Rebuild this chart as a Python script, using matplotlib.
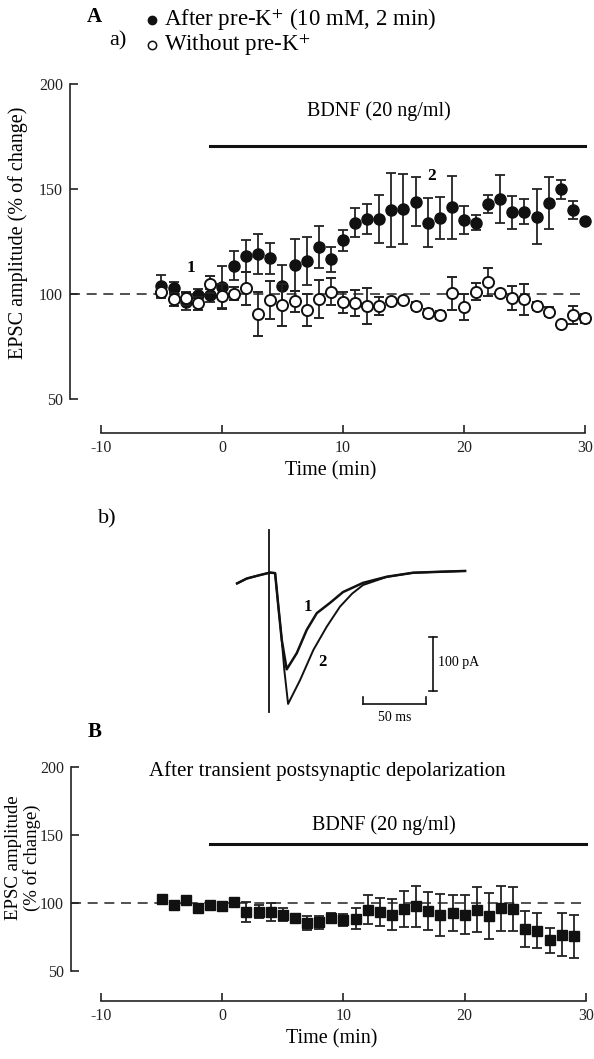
import matplotlib
matplotlib.use("Agg")
import matplotlib.pyplot as plt
from matplotlib.lines import Line2D

plt.rcParams['font.family'] = ['Liberation Serif', 'DejaVu Serif']
plt.rcParams['mathtext.fontset'] = 'stix'
plt.rcParams['axes.unicode_minus'] = False

# panel A a) -- time course, filled = after pre-K+, open = without pre-K+
time_a = list(range(-5, 31))
pre_k = [103.8, 102.9, 96.3, 99.5, 99.3, 103.5, 113.5, 118.0, 118.9, 117.0, 103.8, 114.0,
         115.7, 122.5, 116.5, 125.7, 134.0, 135.7, 135.7, 140.0, 140.6, 144.0, 134.0, 136.3,
         141.3, 135.2, 134.0, 142.9, 145.2, 138.9, 139.2, 136.8, 143.2, 149.8, 140.0, 134.8]
pre_k_err = [5.5, 3.0, 4.0, 3.0, 3.0, 10.0, 6.9, 7.5, 9.5, 7.5, 10.0, 12.4,
             11.4, 10.0, 5.8, 5.0, 7.0, 7.0, 11.5, 17.5, 16.7, 11.7, 11.7, 10.0,
             15.0, 6.5, 3.7, 4.5, 11.5, 7.9, 5.9, 13.0, 12.4, 4.4, 4.4, 0.0]
no_pre_k = [101.0, 97.5, 98.0, 95.6, 104.6, 99.0, 100.2, 102.7, 90.4, 97.0, 95.0, 96.5,
            92.4, 97.5, 101.1, 96.0, 95.6, 94.4, 94.3, 96.5, 97.1, 94.4, 91.1, 90.0,
            100.3, 93.7, 101.1, 105.6, 100.6, 97.9, 97.5, 94.4, 91.6, 85.7, 90.0, 88.4]
no_pre_k_err = [2.0, 3.0, 3.0, 3.0, 4.0, 6.0, 3.0, 8.0, 10.5, 9.0, 10.0, 5.0,
                7.8, 9.0, 6.5, 5.0, 6.3, 8.5, 4.5, 0.0, 0.0, 2.0, 2.0, 2.0,
                7.8, 6.3, 4.0, 6.6, 0.0, 5.7, 7.4, 2.0, 2.0, 0.0, 4.4, 2.0]

# panel A b) -- EPSC traces (ms, pA)
trace1_t = [0, 7.7, 18.3, 26.2, 30.2, 32.8, 35.5, 39.4, 47.4, 55.3, 63.3, 73.8, 84.1, 100, 118.8, 139.7, 161, 181]
trace1_i = [-21, -12, -5.5, -1, -2, -64, -126, -180, -150, -107, -76, -57, -37, -20, -8.7, -1.3, 0.5, 2]
trace2_t = [0, 7.7, 18.3, 26.2, 30.2, 32.8, 35.5, 37.5, 40.5, 50, 60.6, 71.2, 81.7, 91.3, 100, 118.8, 139.7, 161, 181]
trace2_i = [-21, -12, -5.5, -1, -2, -64, -126, -181, -244, -200, -144, -101, -64, -40, -24, -9, -1.3, 0.5, 2]
artifact_t = [25.4, 25.4]
artifact_i = [78, -259]

# panel B -- after transient postsynaptic depolarization
time_b = list(range(-5, 30))
depol = [103.0, 98.7, 101.9, 96.3, 98.7, 97.5, 100.7, 93.3, 93.6, 93.3, 91.4, 88.9,
         85.2, 85.7, 88.9, 87.2, 88.4, 95.0, 93.3, 91.3, 95.8, 97.5, 94.3, 91.3,
         92.5, 91.3, 95.0, 90.1, 96.2, 95.4, 80.8, 79.6, 72.4, 76.6, 75.4]
depol_err = [0, 0, 0, 0, 0, 0, 0, 7.0, 5.0, 6.8, 5.0, 0,
             5.2, 5.0, 3.5, 4.3, 7.8, 10.5, 10.5, 11.6, 13.3, 15.0, 14.0, 15.6,
             13.0, 14.5, 16.4, 17.0, 16.6, 16.4, 13.0, 13.0, 9.0, 16.0, 15.8]

bdnf_start, bdnf_end = -1, 30

W, H = 594, 1059
fig = plt.figure(figsize=(W / 100, H / 100), dpi=100)


def px_axes(left, top, right, bottom):
    return fig.add_axes([left / W, 1 - bottom / H, (right - left) / W, (bottom - top) / H])


def style_axes(ax):
    for s in ['top', 'right']:
        ax.spines[s].set_visible(False)
    ax.spines['left'].set_bounds(50, 200)
    ax.spines['bottom'].set_bounds(-10, 30)
    for s in ['left', 'bottom']:
        ax.spines[s].set_linewidth(1.2)
        ax.spines[s].set_color('#222222')
    ax.set_yticks([50, 100, 150, 200])
    ax.set_xticks([-10, 0, 10, 20, 30])
    ax.tick_params(direction='in', length=6, width=1.2, labelsize=11.5, colors='#222222', pad=5)


ink = '#111111'

# ---- panel A a)
axA = px_axes(70, 82, 591, 433)
axA.set_xlim(-12.56, 30.5)
axA.set_ylim(33.8, 201)
style_axes(axA)
axA.plot([-12.56, 30], [100, 100], color='#333333', lw=1.2, dashes=(6, 4), zorder=1)
axA.errorbar(time_a, pre_k, yerr=pre_k_err, fmt='o', ms=8, color=ink, mfc=ink, mec=ink,
             ecolor='#222222', elinewidth=1.3, capsize=3.5, capthick=1.3, zorder=3)
axA.errorbar(time_a, no_pre_k, yerr=no_pre_k_err, fmt='o', ms=8, color=ink, mfc='white', mec=ink,
             mew=1.4, ecolor='#222222', elinewidth=1.3, capsize=3.5, capthick=1.3, zorder=4)
axA.plot([bdnf_start, bdnf_end], [170.5, 170.5], color=ink, lw=2.2)
axA.text(13, 187, 'BDNF (20 ng/ml)', ha='center', va='center', fontsize=14.5)
axA.text(-2.6, 112.5, '1', ha='center', va='center', fontsize=12.5, fontweight='bold')
axA.text(17.3, 156, '2', ha='center', va='center', fontsize=12.5, fontweight='bold')
axA.set_xlabel('Time (min)', fontsize=14.5)
axA.set_ylabel('EPSC amplitude (% of change)', fontsize=14.5)
axA.yaxis.set_label_coords(-0.081, 0.57)

fig.text(94 / W, 1 - 17 / H, 'A', ha='center', va='center', fontsize=15, fontweight='bold')
fig.text(118 / W, 1 - 41 / H, 'a)', ha='center', va='center', fontsize=16)
fig.add_artist(Line2D([152 / W], [1 - 20 / H], marker='o', ms=6, color=ink, transform=fig.transFigure))
fig.add_artist(Line2D([152 / W], [1 - 45 / H], marker='o', ms=6, mfc='white', mec=ink, mew=1.1,
                      transform=fig.transFigure))
fig.text(164 / W, 1 - 20 / H, 'After pre-K$^{+}$ (10 mM, 2 min)', ha='left', va='center', fontsize=16.5)
fig.text(164 / W, 1 - 45 / H, 'Without pre-K$^{+}$', ha='left', va='center', fontsize=16.5)

# ---- panel A b) traces
fig.text(107 / W, 1 - 519 / H, 'b)', ha='center', va='center', fontsize=16)
axT = px_axes(230, 520, 500, 725)
axT.set_xlim(-5.6, 208.7)
axT.set_ylim(-283, 96.3)
axT.axis('off')
axT.plot(artifact_t, artifact_i, color=ink, lw=1.3)
axT.plot(trace2_t, trace2_i, color=ink, lw=1.4)
axT.plot(trace1_t, trace1_i, color=ink, lw=1.8)
axT.plot([155.6, 155.6], [-120, -220], color=ink, lw=1.2)
axT.plot([152.5, 158.7], [-120, -120], color=ink, lw=1.2)
axT.plot([152.5, 158.7], [-220, -220], color=ink, lw=1.2)
axT.plot([100, 150], [-244, -244], color=ink, lw=1.2)
axT.plot([100, 100], [-244, -231], color=ink, lw=1.2)
axT.plot([150, 150], [-244, -231], color=ink, lw=1.2)
axT.text(159.5, -168, '100 pA', ha='left', va='center', fontsize=10)
axT.text(125, -270, '50 ms', ha='center', va='center', fontsize=10)
axT.text(56.3, -65, '1', ha='center', va='center', fontsize=12, fontweight='bold')
axT.text(67.5, -167, '2', ha='center', va='center', fontsize=12, fontweight='bold')

# ---- panel B
fig.text(95 / W, 1 - 732 / H, 'B', ha='center', va='center', fontsize=15, fontweight='bold')
axB = px_axes(71, 765, 592, 1001)
axB.set_xlim(-12.47, 30.5)
axB.set_ylim(27.8, 201.5)
style_axes(axB)
axB.plot([-12.47, 30], [100, 100], color='#333333', lw=1.2, dashes=(6, 4), zorder=1)
axB.errorbar(time_b, depol, yerr=depol_err, fmt='s', ms=7.5, color=ink, mfc=ink, mec=ink,
             ecolor='#222222', elinewidth=1.3, capsize=3.5, capthick=1.3, zorder=3)
axB.plot([bdnf_start, bdnf_end], [143, 143], color=ink, lw=2.2)
axB.text(13.3, 157.5, 'BDNF (20 ng/ml)', ha='center', va='center', fontsize=14.5)
axB.text(8.7, 197, 'After transient postsynaptic depolarization', ha='center', va='center', fontsize=15)
axB.set_xlabel('Time (min)', fontsize=14.5)
axB.set_ylabel('EPSC amplitude\n(% of change)', fontsize=13.5, linespacing=1.05)
axB.yaxis.set_label_coords(-0.058, 0.606)

fig.savefig('out.png', dpi=100, facecolor='white')
